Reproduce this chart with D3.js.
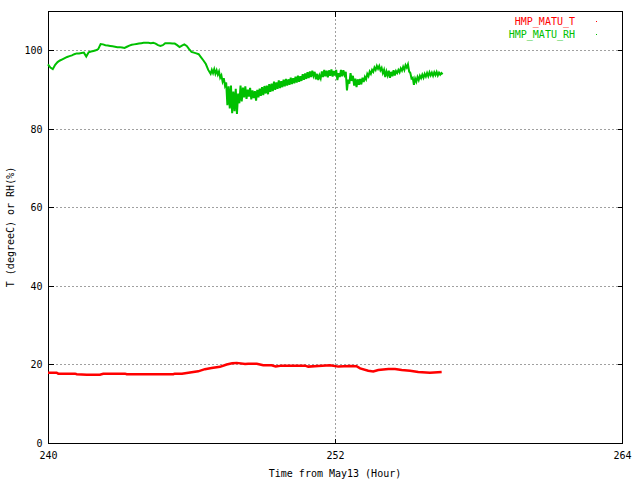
<!DOCTYPE html>
<html><head><meta charset="utf-8">
<script src="https://cdn.jsdelivr.net/npm/d3@7"></script>
<style>body{margin:0;background:#fff}svg{display:block}text{font-family:"DejaVu Sans Mono",monospace;font-size:10px}</style>
</head><body>
<script>
// ---- data ----
const xTicks = [240, 252, 264];
const yTicks = [0, 20, 40, 60, 80, 100];
const seriesNames = ["HMP_MATU_T", "HMP_MATU_RH"];
const seriesColors = ["#ff0000", "#00c000"];

// RH, calm part: every 0.1 h from 240.0 to 246.7
const rhCalmStart = 240.0, rhCalmStep = 0.1;
const rhCalm = [
 96.4,95.6,95.2,96.3,97.0,97.4,97.7,98.0,98.3,98.5,
 98.7,99.0,99.2,99.2,99.3,99.4,98.4,99.5,99.7,99.8,
 100.0,100.3,101.6,101.5,101.3,101.2,101.1,101.0,100.9,100.8,
 100.8,100.7,100.6,100.9,101.2,101.4,101.5,101.6,101.7,101.8,
 101.9,101.9,101.9,101.8,101.9,101.7,101.3,101.1,101.3,101.8,
 101.8,101.8,101.7,101.7,101.3,100.8,101.2,101.5,101.1,100.3,
 99.6,99.4,99.2,99.0,98.2,97.4,96.5,95.0
];
// RH, noisy part: every 0.05 h from 246.8 to 256.5
const rhNoisyStart = 246.8, rhNoisyStep = 0.05;
const rhNoisy = [
 94.0,95.0,94.2,95.2,94.0,94.9,93.8,94.6,93.0,93.6,
 92.0,92.9,91.0,91.8,86.0,90.8,85.2,91.0,84.0,89.5,
 84.5,90.2,83.8,89.0,86.5,91.0,87.0,90.5,88.0,90.8,
 87.6,90.0,88.2,90.4,87.5,89.8,87.8,89.6,87.2,89.9,
 88.0,90.2,88.4,90.6,88.6,90.9,89.0,91.0,88.8,91.4,
 89.4,91.5,89.6,92.0,89.9,91.8,90.2,92.3,90.4,92.1,
 90.6,92.5,90.8,92.7,91.0,92.6,91.2,93.0,91.4,92.9,
 91.6,93.3,91.8,93.5,92.0,93.4,92.2,93.9,92.5,94.1,
 92.7,94.4,92.9,94.6,93.2,94.8,93.5,94.5,92.6,94.0,
 92.4,93.6,92.8,94.6,93.2,95.0,93.4,94.8,93.1,94.9,
 93.5,95.1,93.3,94.7,93.6,95.0,92.4,94.2,93.2,95.0,
 93.4,94.9,93.7,94.5,89.8,92.5,91.5,94.2,92.2,93.5,
 91.0,92.8,90.6,92.6,91.2,92.7,91.3,93.0,91.9,93.2,
 92.6,94.0,93.4,94.6,94.0,95.0,94.5,95.6,95.0,96.0,
 95.3,96.0,94.9,95.5,94.2,95.0,93.2,94.6,93.6,94.8,
 93.0,94.5,93.4,94.9,93.6,94.7,94.2,95.0,94.4,95.4,
 94.8,95.8,95.0,96.2,95.6,96.4,94.6,94.2,92.8,93.0,
 91.2,92.8,92.0,93.2,92.4,93.5,92.9,93.8,93.0,94.0,
 93.3,94.2,93.4,94.4,93.6,94.3,93.5,94.4,93.7,94.5,
 93.6,94.3,93.8,94.2,93.9
];

const tHours = [240.0,240.36,240.43,241.13,241.2,241.62,242.17,242.31,243.22,243.29,245.24,245.3,245.6,245.87,246.28,246.56,246.84,247.19,247.47,247.7,247.89,248.24,248.37,248.73,249.0,249.35,249.52,249.77,250.75,250.88,251.3,251.79,252.14,252.63,252.9,253.05,253.39,253.6,253.81,254.23,254.51,254.79,255.14,255.48,255.97,256.46];
const tValues = [17.9,17.9,17.65,17.65,17.5,17.4,17.4,17.65,17.65,17.5,17.5,17.65,17.65,17.9,18.25,18.8,19.1,19.4,20.0,20.3,20.4,20.1,20.2,20.2,19.8,19.8,19.5,19.7,19.7,19.45,19.6,19.8,19.45,19.6,19.55,19.0,18.4,18.2,18.6,18.85,18.85,18.6,18.4,18.1,17.9,18.1];

// ---- layout ----
const W = 640, H = 480;
const L = 48, R = 622, T = 11, B = 443;

const svg = d3.select("body").append("svg").attr("width", W).attr("height", H);
const x = d3.scaleLinear().domain([240, 264]).range([L, R]);
const y = d3.scaleLinear().domain([0, 110]).range([B, T]);

// grid
const g = svg.append("g").attr("shape-rendering", "crispEdges");
g.selectAll(".gy").data(yTicks.filter(v => v > 0)).enter().append("line")
 .attr("x1", L).attr("x2", R).attr("y1", d => Math.round(y(d)) + 0.5).attr("y2", d => Math.round(y(d)) + 0.5)
 .attr("stroke", "#a0a0a0").attr("stroke-dasharray", "2,2");
g.selectAll(".gx").data(xTicks.filter(v => v > 240 && v < 264)).enter().append("line")
 .attr("y1", T).attr("y2", B).attr("x1", d => Math.round(x(d)) + 0.5).attr("x2", d => Math.round(x(d)) + 0.5)
 .attr("stroke", "#a0a0a0").attr("stroke-dasharray", "2,2");

// axes (ticks inside, mirrored)
const yl = d3.axisLeft(y).tickValues(yTicks).tickSize(-5).tickPadding(6).tickFormat(d3.format("d"));
const yr = d3.axisRight(y).tickValues(yTicks).tickSize(-5).tickFormat("");
const xb = d3.axisBottom(x).tickValues(xTicks).tickSize(-5).tickPadding(8).tickFormat(d3.format("d"));
const xt = d3.axisTop(x).tickValues(xTicks).tickSize(-5).tickFormat("");
function styleAxis(sel){
  sel.attr("shape-rendering","crispEdges");
  sel.select(".domain").remove();
  sel.selectAll(".tick line").attr("stroke","#000");
  sel.selectAll("text").attr("fill","#000").style("font-family","DejaVu Sans Mono").style("font-size","10px");
}
svg.append("g").attr("transform",`translate(${L+0.5},0)`).call(yl).call(styleAxis).selectAll("text").attr("x",-6);
svg.append("g").attr("transform",`translate(${R+0.5},0)`).call(yr).call(styleAxis);
svg.append("g").attr("transform",`translate(0,${B+0.5})`).call(xb).call(styleAxis);
svg.append("g").attr("transform",`translate(0,${T+0.5})`).call(xt).call(styleAxis);

// frame
svg.append("rect").attr("x", L + 0.5).attr("y", T + 0.5).attr("width", R - L).attr("height", B - T)
 .attr("fill", "none").attr("stroke", "#000").attr("shape-rendering", "crispEdges");

// lines
const rhData = rhCalm.map((v, i) => [rhCalmStart + i * rhCalmStep, v])
  .concat(rhNoisy.map((v, i) => [rhNoisyStart + i * rhNoisyStep, v]));
const tData = tHours.map((h, i) => [h, tValues[i]]);
const line = d3.line().x(d => x(d[0])).y(d => y(d[1]));
svg.append("path").datum(tData).attr("d", line).attr("fill", "none")
 .attr("stroke", seriesColors[0]).attr("stroke-width", 2.5);
svg.append("path").datum(rhData).attr("d", line).attr("fill", "none")
 .attr("stroke", seriesColors[1]).attr("stroke-width", 2);

// legend
seriesNames.forEach((n, i) => {
  svg.append("text").attr("x", 575).attr("y", 25 + i * 13).attr("text-anchor", "end")
    .attr("fill", seriesColors[i]).text(n);
  svg.append("rect").attr("x", 596).attr("y", 21 + i * 13).attr("width", 1).attr("height", 1)
    .attr("fill", seriesColors[i]);
});

// titles
svg.append("text").attr("x", (L + R) / 2).attr("y", 477).attr("text-anchor", "middle").attr("fill","#000")
 .text("Time from May13 (Hour)");
svg.append("text").attr("transform", `translate(14,${(T + B) / 2}) rotate(-90)`).attr("text-anchor", "middle").attr("fill","#000")
 .text("T (degreeC) or RH(%)");
</script>
</body></html>
